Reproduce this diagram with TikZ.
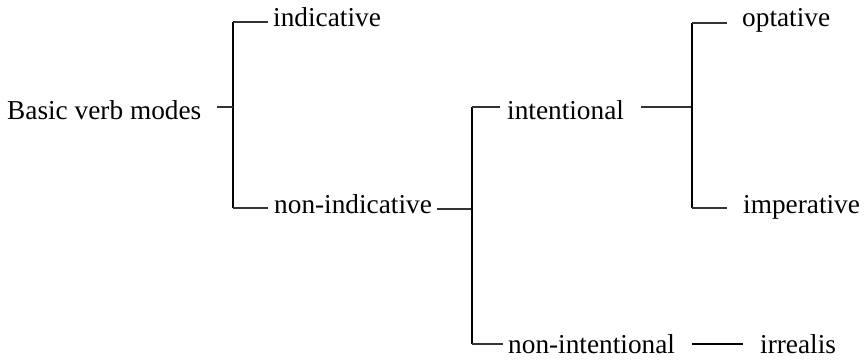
\documentclass[tikz,border=0pt]{standalone}
\usepackage{fontspec}
\setmainfont{Liberation Serif}
\usetikzlibrary{calc}
\begin{document}
\begin{tikzpicture}[x=1pt,y=-1pt,
  lbl/.style={anchor=base west,inner sep=0pt,font=\fontsize{27.3}{32}\selectfont},
  bar/.style={line width=2.2pt},
  tick/.style={line width=1.4pt,black!80},
  heavy/.style={line width=2.6pt}]
\useasboundingbox (0,0) rectangle (864,359);
\node[lbl] (bvm)  at (7,119)   {Basic verb modes};
\node[lbl] (ind)  at (273,26)  {indicative};
\node[lbl] (nind) at (274,213) {non-indicative};
\node[lbl] (int)  at (507,119) {intentional};
\node[lbl] (nint) at (508,353) {non-intentional};
\node[lbl] (opt)  at (742,26)  {optative};
\node[lbl] (imp)  at (743,213) {imperative};
\node[lbl] (irr)  at (760,353) {irrealis};
\coordinate (a1) at (233,22);
\coordinate (a2) at (233,208);
\coordinate (a0) at (233,107);
\coordinate (b1) at (472,107);
\coordinate (b2) at (472,344);
\coordinate (b0) at (472,209);
\coordinate (c1) at (692,23);
\coordinate (c2) at (692,208);
\coordinate (c0) at (692,107);
\draw[bar] (a1) -- (a2);
\draw[tick] ($(bvm.east |- a0)+(16,0)$) -- (a0);
\draw[tick] (a1) -- ($(ind.west |- a1)+(-5,0)$);
\draw[tick] (a2) -- ($(nind.west |- a2)+(-6,0)$);
\draw[tick] ($(nind.east |- b0)+(5,0)$) -- (b0);
\draw[bar] (b1) -- (b2);
\draw[tick] (b1) -- ($(int.west |- b1)+(-7,0)$);
\draw[tick] (b2) -- ($(nint.west |- b2)+(-5,0)$);
\draw[tick] ($(int.east |- c0)+(17,0)$) -- (c0);
\draw[bar] (c1) -- (c2);
\draw[tick] (c1) -- ($(opt.west |- c1)+(-15,0)$);
\draw[tick] (c2) -- ($(imp.west |- c2)+(-16,0)$);
\draw[heavy] ($(nint.east |- b2)+(17,0)$) -- ($(irr.west |- b2)+(-17,0)$);
\end{tikzpicture}
\end{document}
